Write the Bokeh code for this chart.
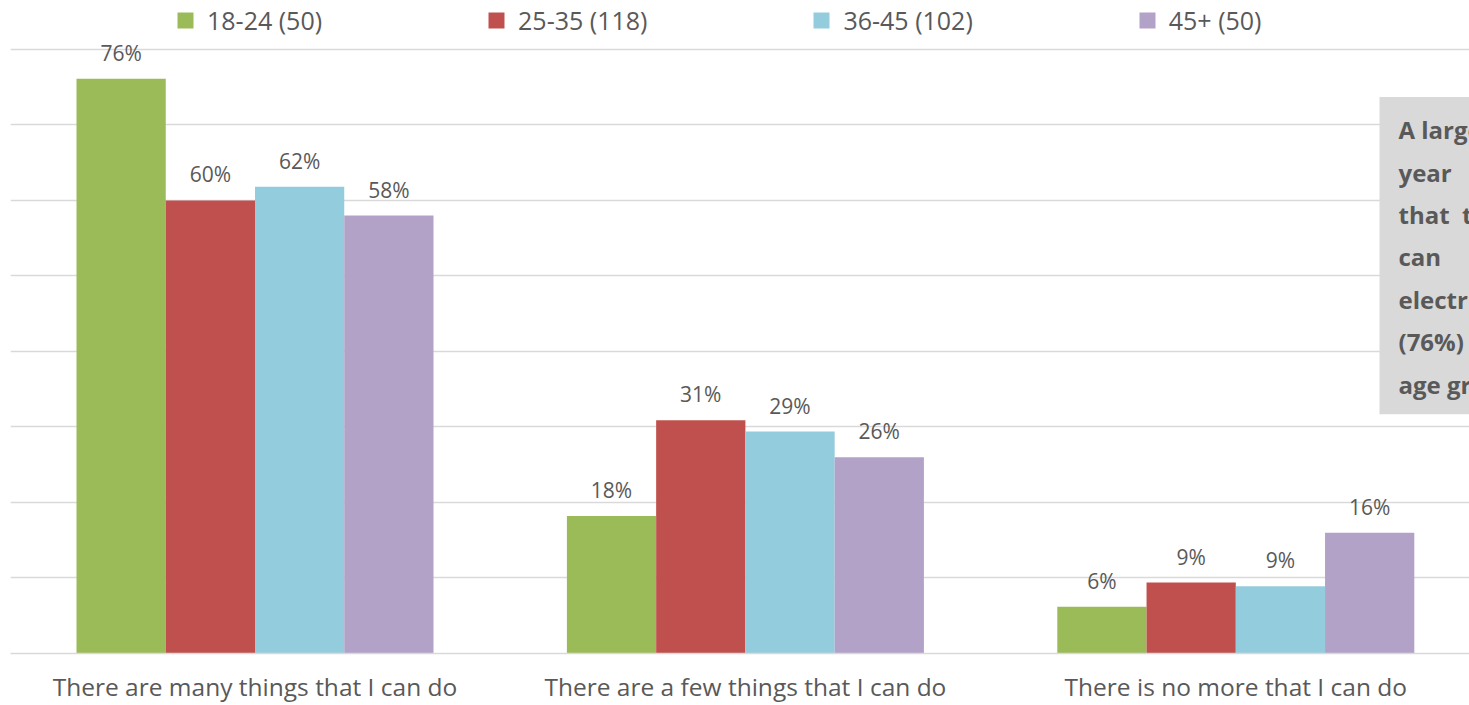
from bokeh.plotting import figure
from bokeh.models import (ColumnDataSource, FixedTicker, Range1d, Legend, LegendItem,
                          BoxAnnotation, Label)
from bokeh.transform import dodge
from bokeh.core.properties import value
from bokeh.embed import file_html
from bokeh.resources import INLINE

# ---------------- data ----------------
categories = [
    "There are many things that I can do",
    "There are a few things that I can do",
    "There is no more that I can do",
]
series_names = ["18-24 (50)", "25-35 (118)", "36-45 (102)", "45+ (50)"]
age_18_24 = [76.1, 18.2, 6.2]
age_25_35 = [60.0, 30.9, 9.4]
age_36_45 = [61.8, 29.4, 8.9]
age_45_plus = [58.0, 26.0, 16.0]
y_ticks = [0, 10, 20, 30, 40, 50, 60, 70, 80]
NB = "\u00a0"
note_lines = [
    "A larger proportion of 18-24",
    "year" + NB * 3 + "olds feel",
    "that" + NB * 2 + "there are many things they",
    "can" + NB * 5 + "do to reduce their",
    "electricity use at home",
    "(76%) than those in other",
    "age groups.",
]

series_values = [age_18_24, age_25_35, age_36_45, age_45_plus]
colors = ["#9BBB59", "#C0504D", "#93CDDD", "#B2A2C7"]
TEXT = "#595959"
GRID = "#D9D9D9"
FONT = "Open Sans"

# ---------------- layout ----------------
W, H = 1469, 705
B_LEFT, B_BOTTOM = 10, 51
BASE_Y = H - B_BOTTOM          # pixel row of the 0 baseline
PX_PER_UNIT = 7.5625           # pixels per percentage point
PX_PER_CAT = 490.4
CAT0_X = 254.5
BASELINE_FIX = 9               # svg alphabetic baseline correction (px)


def ref_y(px):
    return (BASE_Y - px) / PX_PER_UNIT


def ref_x(px):
    return (px - CAT0_X) / PX_PER_CAT


bar_w = 89.25 / PX_PER_CAT
offsets = [-1.5 * bar_w, -0.5 * bar_w, 0.5 * bar_w, 1.5 * bar_w]

p = figure(width=W, height=H, x_range=Range1d(ref_x(B_LEFT), ref_x(W)),
           y_range=Range1d(0, ref_y(0)),
           output_backend="svg", toolbar_location=None, y_axis_location=None,
           min_border_left=B_LEFT, min_border_right=0, min_border_top=0,
           min_border_bottom=B_BOTTOM)
p.outline_line_color = None
p.background_fill_color = "white"
p.border_fill_color = "white"

p.xgrid.visible = False
p.ygrid.ticker = FixedTicker(ticks=y_ticks)
p.ygrid.grid_line_color = GRID
p.ygrid.grid_line_width = 1.6

xa = p.xaxis[0]
xa.ticker = FixedTicker(ticks=list(range(len(categories))))
xa.major_label_overrides = {i: c for i, c in enumerate(categories)}
xa.major_tick_line_color = None
xa.minor_tick_line_color = None
xa.major_tick_out = 0
xa.major_tick_in = 0
xa.axis_line_color = GRID
xa.axis_line_width = 1.6
xa.major_label_standoff = 16
xa.major_label_text_font = FONT
xa.major_label_text_font_size = "24.5px"
xa.major_label_text_color = TEXT

# note box
box = BoxAnnotation(left=ref_x(1379), bottom=ref_y(414.3), top=ref_y(96.7),
                    fill_color=GRID, fill_alpha=1.0, line_color=None)
p.add_layout(box)

items = []
for name, vals, col, off in zip(series_names, series_values, colors, offsets):
    src = ColumnDataSource(dict(x=list(range(len(categories))), top=vals,
                                label=[f"{round(v)}%" for v in vals]))
    r = p.vbar(x=dodge("x", off, range=p.x_range), top="top", width=bar_w, source=src,
               fill_color=col, line_color=None)
    p.text(x=dodge("x", off, range=p.x_range), y="top", text="label", source=src,
           text_align="center", text_baseline="alphabetic", y_offset=-17 - BASELINE_FIX,
           text_font=value(FONT), text_font_size="21px", text_color=TEXT)
    items.append(LegendItem(label=name, renderers=[r]))

for i, line in enumerate(note_lines):
    p.add_layout(Label(x=ref_x(1398), y=ref_y(138.3 + 42.5 * i - BASELINE_FIX),
                       text=line, text_font=FONT, text_font_size="24px",
                       text_font_style="bold", text_color=TEXT,
                       text_baseline="alphabetic", text_align="left"))

legend = Legend(items=items, orientation="horizontal", location=(175 - B_LEFT, BASE_Y - 38),
                spacing=164, label_standoff=12, glyph_width=20, glyph_height=20,
                padding=0, margin=0, border_line_color=None, background_fill_alpha=0,
                label_text_font=FONT, label_text_font_size="25px",
                label_text_color=TEXT)
p.add_layout(legend)

open("out.html", "w").write(file_html(p, INLINE))
